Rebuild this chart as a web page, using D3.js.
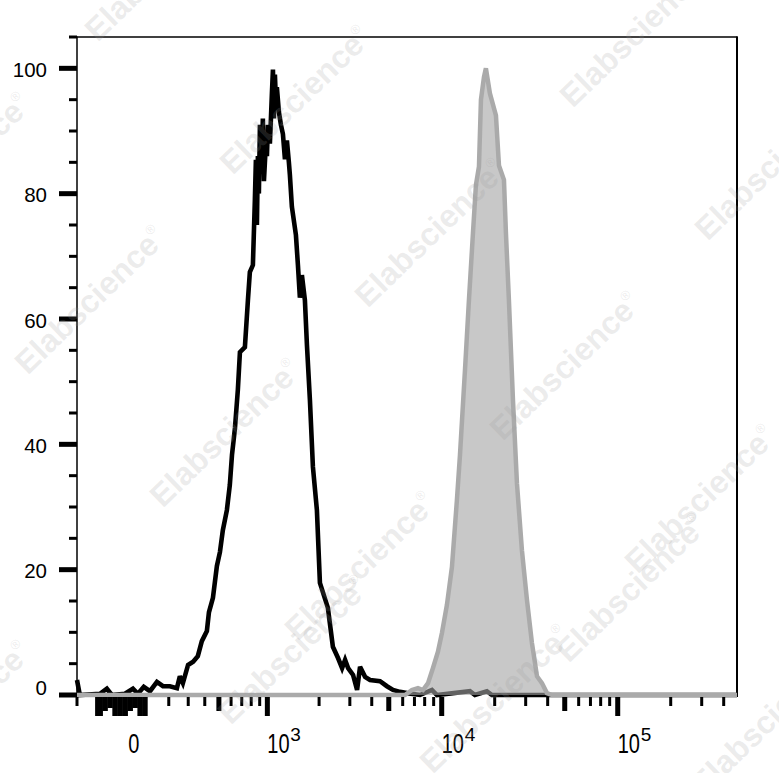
<!DOCTYPE html>
<html><head><meta charset="utf-8">
<script src="https://cdn.jsdelivr.net/npm/d3@7"></script>
<style>html,body{margin:0;padding:0;background:#fff;}svg{display:block;}</style>
</head><body>
<svg id="chart" width="779" height="773"></svg>
<script>
// ---- data (fluorescence intensity, % of max) ----
const controlX = [-186,-173,-86,-58,-38,14,46,66,90,116,146,173,205,240,255,271,299,328,356,381,414,428,456,485,508,531,564,589,608,635,662,682,732,764,785,819,842,854,866,878,890,903,928,940,954,980,994,1008,1035,1050,1064,1079,1093,1108,1123,1138,1170,1202,1235,1269,1303,1338,1356,1393,1470,1510,1550,1592,1657,1702,1771,1843,1943,2022,2247,2400,2568,2709,2818,2932,3130,3299,3430,3664,3911,4458,4882,5285,5789,6345,7522,8801,9393,14470,15440,18060,19290,41220,476000];
const controlY = [2.4,0,0.2,1.0,0,0.2,1.0,0.2,1.3,0.6,2.1,1.4,1.4,1.1,3.0,1.9,4.8,5.3,6.2,8.6,10.2,13.2,15.5,20.6,22.8,26.3,29.5,33.5,38.3,42.6,48.7,54.7,55.5,63.0,67.5,68.6,79.0,85.4,75.0,86.0,80.0,91.0,84.0,92.0,82.0,88.0,86.0,91.0,88.0,92.0,96.0,99.8,92.0,99.0,95.0,97.0,93.0,91.0,89.5,85.5,88.5,85.0,83.0,77.9,73.4,68.6,63.4,67.0,63.0,55.9,47.1,36.4,29.5,17.9,13.9,7.7,5.9,4.3,5.6,4.3,3.2,0.8,4.5,2.9,2.4,2.2,1.4,0.8,0.5,0.3,0,0.8,0,0.6,0,0.6,0,0,0];
const stainedX = [-186,6181,6770,7330,7820,8360,8920,9520,10030,10710,11430,12200,12700,13560,14280,15050,15650,16280,16710,17380,17830,18790,20330,21150,22580,23170,24090,25400,26760,28560,30500,32560,34770,37120,39620,42310,476000];
const stainedY = [0,0,0.8,1.1,0.8,1.9,4.3,6.9,9.9,14.4,20.4,31.1,38.3,51.9,63.0,73.7,81.4,84.3,95.0,98.6,100,96.0,92.5,84.5,82.2,73.7,63.0,47.1,33.8,23.1,15.2,8.3,3.0,1.9,0.3,0,0];

const yMajorTicks = [0,20,40,60,80,100];
const yMinorTicks = [5,10,15,25,30,35,45,50,55,65,70,75,85,90,95,105];
const xMajorTicks = [1000,10000,100000];
const xMediumTicks = [500,5000,50000];
const xMinorTicks = [-186,200,300,400,600,700,800,900,2000,3000,4000,6000,7000,8000,9000,20000,30000,40000,60000,70000,80000,90000,200000,300000,400000];
const xZeroTallTicks = [-100,-90,-80,-30,-20,-10,0,10,20,70,80,90,100];
const xZeroMidTicks = [-70,-60,30,40];
const xZeroLowTicks = [-50,-40,50,60];
const xLabelValues = [0,1000,10000,100000];
const xLabelBase = ["0","10","10","10"];
const xLabelExp = ["","3","4","5"];
const watermarkText = "Elabscience";

// ---- scales ----
const X_MIN = -186, X_MAX = 476000, COF = 303;
const tf = v => Math.asinh(v / COF);
const xLin = d3.scaleLinear().domain([tf(X_MIN), tf(X_MAX)]).range([77, 737]);
const x = v => xLin(tf(v));
const y = d3.scaleLinear().domain([0, 105]).range([695, 37]);

const svg = d3.select("#chart");
svg.append("rect").attr("width",779).attr("height",773).attr("fill","#fff");

const control = controlX.map((v,i)=>[v, controlY[i]]);
const stained = stainedX.map((v,i)=>[v, stainedY[i]]);

// frame
const frame = svg.append("g").attr("stroke","#000").attr("stroke-width",1.5).attr("fill","none");
frame.append("line").attr("x1",77).attr("x2",77).attr("y1",36.5).attr("y2",697);
frame.append("line").attr("x1",77).attr("x2",737.5).attr("y1",37).attr("y2",37);
frame.append("line").attr("x1",737).attr("x2",737).attr("y1",36.5).attr("y2",697).attr("stroke-width",2);

// control histogram (black line)
const line = d3.line().x(d=>x(d[0])).y(d=>y(d[1]));
svg.append("path").datum(control).attr("d",line)
  .attr("fill","none").attr("stroke","#000").attr("stroke-width",4.6).attr("stroke-linejoin","miter").attr("stroke-miterlimit",3);

// stained histogram (gray filled)
const area = d3.area().x(d=>x(d[0])).y0(y(0)).y1(d=>y(d[1]));
svg.append("path").datum(stained).attr("d",area).attr("fill","#a3a3a3").attr("fill-opacity",0.6);
svg.append("path").datum(stained).attr("d",line)
  .attr("fill","none").attr("stroke","#aaaaaa").attr("stroke-width",4.5).attr("stroke-linejoin","miter").attr("stroke-miterlimit",3);

// y ticks
const yt = svg.append("g").attr("stroke","#000");
yt.selectAll(".ymaj").data(yMajorTicks).join("line")
  .attr("x1",59).attr("x2",77).attr("y1",d=>y(d)).attr("y2",d=>y(d)).attr("stroke-width",5);
yt.selectAll(".ymin").data(yMinorTicks).join("line").attr("class","ymin")
  .attr("x1",69).attr("x2",77).attr("y1",d=>y(d)).attr("y2",d=>y(d)).attr("stroke-width",3);

// y labels
svg.append("g").selectAll("text").data(yMajorTicks).join("text")
  .attr("x",47).attr("y",d=> d===0 ? y(d) : y(d)+8.5)
  .attr("text-anchor","end").attr("font-family","'Liberation Sans', Arial, sans-serif")
  .attr("font-size",20.5).attr("fill","#000").text(d=>d);

// x ticks
const XT0 = 697;
const xt = svg.append("g").attr("stroke","#000");
function drawTicks(vals, len, w){
  xt.append("g").selectAll("line").data(vals).join("line")
    .attr("x1",d=>x(d)).attr("x2",d=>x(d)).attr("y1",XT0).attr("y2",XT0+len).attr("stroke-width",w);
}
drawTicks(xMinorTicks, 9, 3);
drawTicks(xMediumTicks, 14, 5);
drawTicks(xMajorTicks, 19, 5);
drawTicks(xZeroLowTicks, 11, 3);
drawTicks(xZeroMidTicks, 14, 3);
drawTicks(xZeroTallTicks, 19, 3);

// x labels
const xl = svg.append("g").attr("font-family","'Liberation Sans', Arial, sans-serif").attr("fill","#000");
xLabelValues.forEach((v,i)=>{
  const px = x(v);
  if (xLabelExp[i] === "") {
    xl.append("text").attr("transform",`translate(${px+12.5},753) scale(1,1.4)`)
      .attr("text-anchor","middle").attr("font-size",20).text(xLabelBase[i]);
  } else {
    xl.append("text").attr("transform",`translate(${px},753) scale(1,1.4)`)
      .attr("font-size",20).text(xLabelBase[i]);
    xl.append("text").attr("x",px+23).attr("y",741).attr("font-size",19).text(xLabelExp[i]);
  }
});

// watermark
const wmCenters = [[295,100],[430,233],[565,366],[700,499],[160,-33],[-45,167],[90,300],[225,433],[360,566],[495,699],[635,33],[770,166],[293,650],[631,588],[-45,715],[766,721]];
const wm = svg.append("g").attr("fill","#9a9a9a").attr("fill-opacity",0.2)
  .attr("font-family","'Liberation Sans', Arial, sans-serif").attr("font-weight","bold").attr("font-size",32);
wmCenters.forEach(c=>{
  const t = wm.append("text").attr("transform",`translate(${c[0]},${c[1]}) rotate(-44)`)
    .attr("text-anchor","middle").attr("dy","0.35em");
  t.append("tspan").text(watermarkText);
  t.append("tspan").attr("font-size",13).attr("font-weight","normal").attr("dy","-1.2em").text("®");
});
</script>
</body></html>
